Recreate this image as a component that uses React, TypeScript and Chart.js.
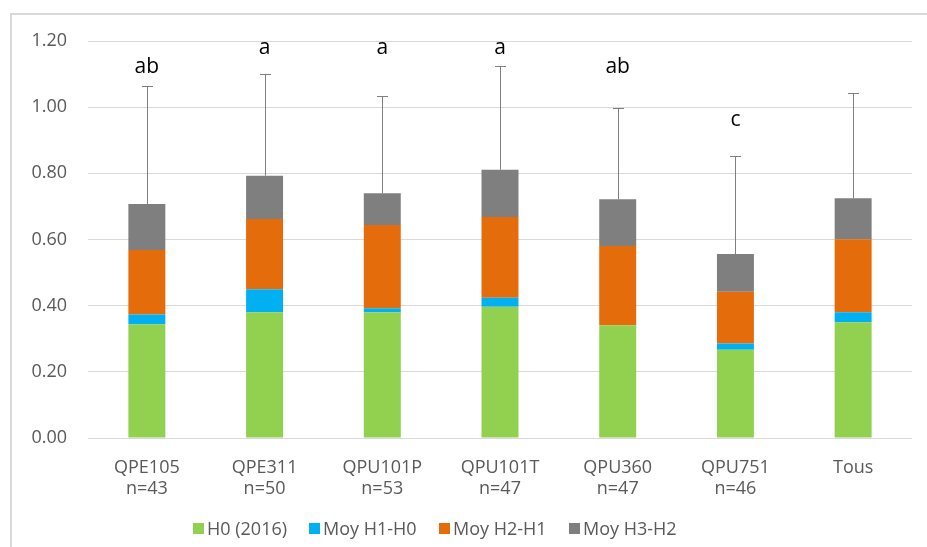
import React, { useEffect, useRef } from "react";
import { Chart, registerables } from "chart.js";

Chart.register(...registerables);

const categories: string[][] = [
  ["QPE105", "n=43"],
  ["QPE311", "n=50"],
  ["QPU101P", "n=53"],
  ["QPU101T", "n=47"],
  ["QPU360", "n=47"],
  ["QPU751", "n=46"],
  ["Tous", ""],
];
const seriesNames = ["H0 (2016)", "Moy H1-H0", "Moy H2-H1", "Moy H3-H2"];
const seriesColors = ["#92D050", "#00B0F0", "#E46C0A", "#7F7F7F"];
const h0 = [0.344, 0.38, 0.38, 0.397, 0.341, 0.267, 0.35];
const h1h0 = [0.029, 0.07, 0.012, 0.027, 0.0, 0.019, 0.03];
const h2h1 = [0.195, 0.212, 0.252, 0.244, 0.239, 0.156, 0.221];
const h3h2 = [0.139, 0.131, 0.096, 0.143, 0.142, 0.114, 0.124];
const errorTop = [1.064, 1.1, 1.035, 1.125, 0.998, 0.853, 1.042];
const letters = ["ab", "a", "a", "a", "ab", "c", ""];
const letterPos: (number | null)[] = [1.12, 1.18, 1.18, 1.18, 1.12, 0.96, null];
const yMin = 0;
const yMax = 1.2;
const yStep = 0.2;

const FONT = "'Open Sans', 'Noto Sans', sans-serif";

const annotationsPlugin = {
  id: "errorBarsAndLetters",
  afterDatasetsDraw(chart: any) {
    const { ctx } = chart;
    const yScale = chart.scales.y;
    const meta = chart.getDatasetMeta(chart.data.datasets.length - 1);
    ctx.save();
    ctx.strokeStyle = "#7F7F7F";
    ctx.lineWidth = 1;
    meta.data.forEach((bar: any, i: number) => {
      const x = Math.round(bar.x) + 0.5;
      const yTop = Math.round(yScale.getPixelForValue(errorTop[i])) + 0.5;
      ctx.beginPath();
      ctx.moveTo(x, bar.y);
      ctx.lineTo(x, yTop);
      ctx.moveTo(x - 5.5, yTop);
      ctx.lineTo(x + 5.5, yTop);
      ctx.stroke();
    });
    ctx.fillStyle = "#000000";
    ctx.font = `21px ${FONT}`;
    ctx.textAlign = "center";
    ctx.textBaseline = "middle";
    meta.data.forEach((bar: any, i: number) => {
      const p = letterPos[i];
      if (p === null || !letters[i]) return;
      ctx.fillText(letters[i], bar.x, yScale.getPixelForValue(p));
    });
    ctx.restore();
  },
};

export default function App() {
  const canvasRef = useRef<HTMLCanvasElement | null>(null);

  useEffect(() => {
    if (!canvasRef.current) return;
    const series = [h0, h1h0, h2h1, h3h2];
    const chart = new Chart(canvasRef.current, {
      type: "bar",
      data: {
        labels: categories,
        datasets: series.map((d, i) => ({
          label: seriesNames[i],
          data: d,
          backgroundColor: seriesColors[i],
          borderWidth: 0,
          categoryPercentage: 1,
          barPercentage: 0.314,
        })),
      },
      options: {
        animation: false,
        responsive: false,
        maintainAspectRatio: false,
        layout: { padding: { left: 0, right: 15, top: 41, bottom: 0 } },
        plugins: {
          legend: { display: false },
          tooltip: { enabled: false },
        },
        scales: {
          x: {
            stacked: true,
            grid: { display: false, drawTicks: false },
            border: { display: false },
            ticks: {
              color: "#595959",
              font: { family: FONT, size: 18, lineHeight: 1.17 },
              padding: 19,
              maxRotation: 0,
              autoSkip: false,
            },
            afterFit: (scale: any) => {
              scale.height = 109;
            },
          },
          y: {
            stacked: true,
            min: yMin,
            max: yMax,
            grid: { color: "#D9D9D9", lineWidth: 1, drawTicks: false },
            border: { display: false },
            ticks: {
              stepSize: yStep,
              color: "#595959",
              font: { family: FONT, size: 18 },
              padding: 21,
              callback: (v: any) => Number(v).toFixed(2),
            },
            afterFit: (scale: any) => {
              scale.width = 88;
            },
          },
        },
      },
      plugins: [annotationsPlugin],
    });
    return () => chart.destroy();
  }, []);

  const legendX = [193, 309, 439, 569];

  return (
    <div
      style={{
        position: "absolute",
        left: 0,
        top: 0,
        width: 927,
        height: 547,
        background: "#ffffff",
        overflow: "hidden",
      }}
    >
      <div
        style={{
          position: "absolute",
          left: 10,
          top: 13,
          width: 940,
          height: 560,
          borderLeft: "2px solid #D9D9D9",
          borderTop: "2px solid #D9D9D9",
          boxSizing: "border-box",
        }}
      />
      <canvas
        ref={canvasRef}
        width={927}
        height={547}
        style={{ position: "absolute", left: 0, top: 0, width: 927, height: 547 }}
      />
      {seriesNames.map((name, i) => (
        <div
          key={name}
          style={{
            position: "absolute",
            left: legendX[i],
            top: 516,
            height: 24,
            display: "flex",
            alignItems: "center",
            fontFamily: FONT,
            fontSize: 18,
            color: "#595959",
            whiteSpace: "nowrap",
          }}
        >
          <span
            style={{
              display: "inline-block",
              width: 11,
              height: 11,
              background: seriesColors[i],
              marginRight: 3,
            }}
          />
          <span>{name}</span>
        </div>
      ))}
    </div>
  );
}
